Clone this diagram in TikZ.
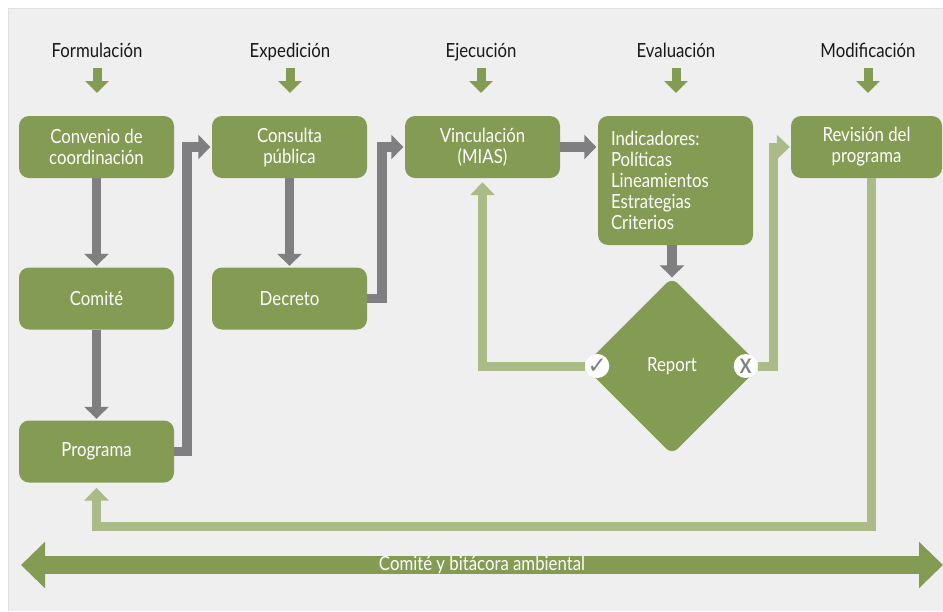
\documentclass[tikz,border=0pt]{standalone}
\usepackage{fontspec}
\setmainfont{Lato}[FakeStretch=0.86]
\newfontfamily\symbfont{DejaVu Sans}
\usetikzlibrary{arrows.meta,shapes.geometric}

\definecolor{boxgreen}{RGB}{132,155,84}
\definecolor{linegreen}{RGB}{171,187,136}
\definecolor{arrowgray}{RGB}{127,127,129}
\definecolor{panelgray}{RGB}{239,239,239}

\begin{document}
\begin{tikzpicture}[x=1pt,y=-1pt,
    stage/.style={anchor=base, text=black!90, font=\fontsize{19.5}{21}\selectfont},
    box/.style={fill=boxgreen, rounded corners=10pt, text=white, align=center,
        minimum width=155pt, minimum height=62pt, font=\fontsize{19.5}{21}\selectfont},
    headarrow/.style={draw=boxgreen, line width=9pt, -{Triangle[width=23pt,length=12pt]}},
    grayarrow/.style={draw=arrowgray, line width=9.5pt, shorten >=1.5pt, -{Triangle[width=24pt,length=12pt]}},
    greenarrow/.style={draw=linegreen, line width=9pt, -{Triangle[width=24pt,length=13pt]}},
    bandarrow/.style={draw=boxgreen, line width=17.5pt,
        {Triangle[width=45pt,length=24pt]}-{Triangle[width=45pt,length=24pt]}},
    markdot/.style={circle, fill=white, inner sep=0pt, minimum size=24pt, text=arrowgray}]

    \useasboundingbox (0,0) rectangle (943,611);
    \fill[white] (0,0) rectangle (943,611);
    \fill[panelgray] (8,8) rectangle (943,611);
    \draw[black!12] (8,611) -- (8,8) -- (943,8);

    % stages
    \node[stage] (hform) at (97,57) {Formulación};
    \node[stage] (hexp) at (290,57) {Expedición};
    \node[stage] (heje) at (481,57) {Ejecución};
    \node[stage] (heva) at (676,57) {Evaluación};
    \node[stage] (hmod) at (868,57) {Modificación};
    \foreach \h in {hform,hexp,heje,heva,hmod}
        \draw[headarrow] (\h.base) ++(0,11) -- ++(0,25);

    % boxes
    \node[box] (conv) at (96.5,147) {Convenio de\\coordinación};
    \node[box] (cons) at (289.5,147) {Consulta\\pública};
    \node[box] (vinc) at (482.5,147) {Vinculación\\(MIAS)};
    \node[box, minimum height=129pt, text width=129pt, inner xsep=13pt, align=left]
        (ind) at (675.5,180.5) {Indicadores:\\Políticas\\Lineamientos\\Estrategias\\Criterios};
    \node[box, minimum width=151pt] (rev) at (866.5,147) {Revisión del\\programa};
    \node[box] (comite) at (96.5,298.5) {Comité};
    \node[box] (decreto) at (289.5,298.5) {Decreto};
    \node[box] (programa) at (96.5,451.5) {Programa};
    \node[diamond, fill=boxgreen, rounded corners=8pt, inner sep=0pt, minimum width=177pt,
        minimum height=177pt, text=white, font=\fontsize{19.5}{21}\selectfont] (report) at (672,366) {Report};
    \node[markdot, font=\symbfont\fontsize{23}{23}\selectfont] (ok) at ([xshift=14pt]report.west) {✓};
    \node[markdot, font=\bfseries\fontsize{20}{20}\selectfont] (no) at ([xshift=-15pt]report.east) {X};

    % gray flow
    \draw[grayarrow] (conv) -- (comite);
    \draw[grayarrow] (comite) -- (programa);
    \draw[grayarrow] (programa.east) -- ++(13,0) |- (cons.west);
    \draw[grayarrow] (cons) -- (decreto);
    \draw[grayarrow] (decreto.east) -- ++(15,0) |- (vinc.west);
    \draw[grayarrow] (vinc.east) -- (vinc.east -| ind.west);
    \draw[grayarrow, shorten >=0pt] (ind.south -| report.north) -- (report.north);

    % feedback
    \draw[greenarrow, shorten >=4pt] (ok.west) -| (vinc.south);
    \draw[greenarrow, shorten >=1pt] (no.east) -- ++(16,0) |- (rev.west);
    \draw[greenarrow, shorten >=5pt] ([xshift=4.5pt]rev.south) -- ++(0,348) -| (programa.south);

    % band
    \coordinate (bandl) at (21,565);
    \coordinate (bandr) at (943,565);
    \draw[bandarrow] (bandl) -- node[text=white, font=\fontsize{19.5}{21}\selectfont] {Comité y bitácora ambiental} (bandr);
\end{tikzpicture}
\end{document}
